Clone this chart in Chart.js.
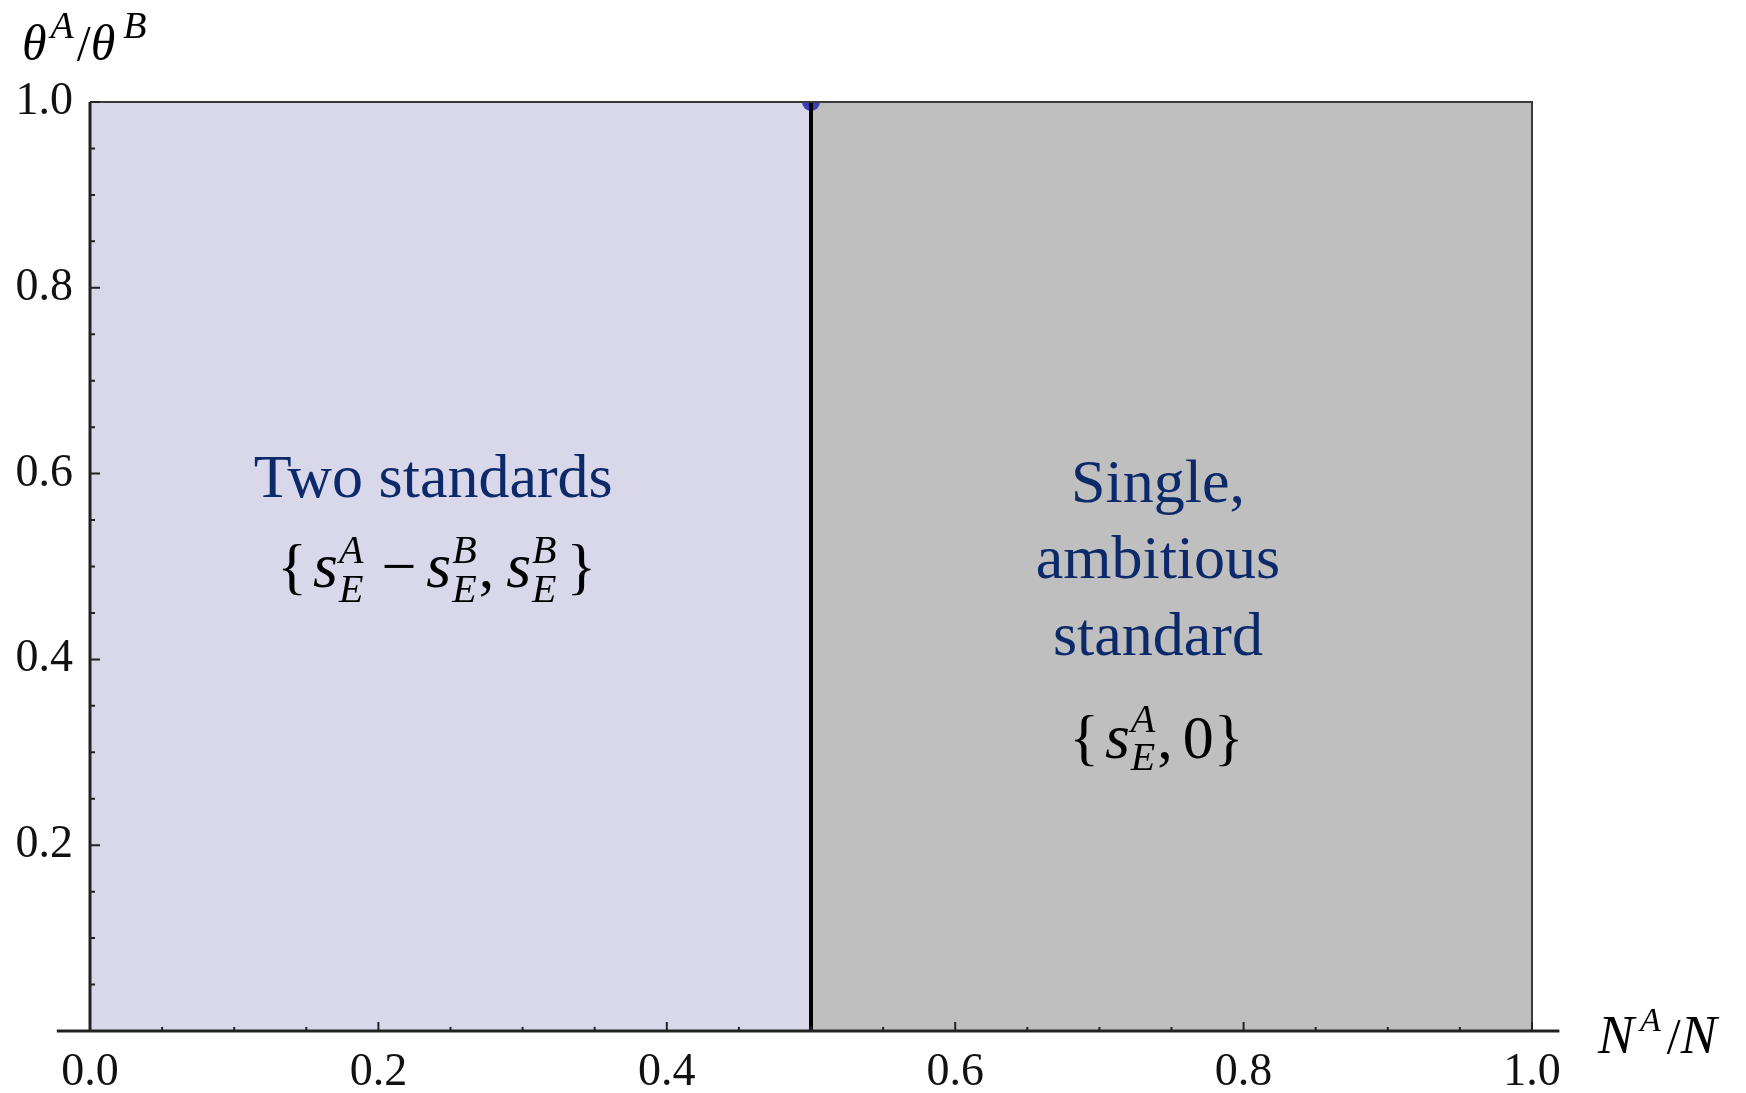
<!DOCTYPE html>
<html>
<head>
<meta charset="utf-8">
<script src="https://cdn.jsdelivr.net/npm/chart.js@4"></script>
<style>
html,body{margin:0;padding:0;background:#fff;}
#wrap{width:1746px;height:1093px;}
</style>
</head>
<body>
<div id="wrap"><canvas id="regionChart" width="1746" height="1093"></canvas></div>
<script>
// axis ticks
const xTicks = [0, 0.2, 0.4, 0.6, 0.8, 1.0];
const xTickLabels = ["0.0", "0.2", "0.4", "0.6", "0.8", "1.0"];
const yTicks = [0.2, 0.4, 0.6, 0.8, 1.0];
const yTickLabels = ["0.2", "0.4", "0.6", "0.8", "1.0"];
const minorTicks = [0.05, 0.1, 0.15, 0.25, 0.3, 0.35, 0.45, 0.5, 0.55, 0.65, 0.7, 0.75, 0.85, 0.9, 0.95];
const xAxisExtent = [-0.023, 1.019];

// regions (N^A/N on x, theta^A/theta^B on y)
const twoStdX = [0, 0.5];
const twoStdY = [1, 1];
const singleX = [0.5, 1];
const singleY = [1, 1];
const boundaryX = [0.5, 0.5];
const boundaryY = [0, 1];
const markerX = [0.5];
const markerY = [1];

const toPoints = (xs, ys) => xs.map((v, i) => ({x: v, y: ys[i]}));

const M = '62px "Liberation Serif"';
const I = 'italic 64px "Liberation Serif"';
const S = 'italic 40px "Liberation Serif"';
const LABEL = '62px "Liberation Serif"';
const BLUE = '#0c2a6a';

// draw a row of text pieces; align 'center' uses cx as middle, 'left' as start
function drawParts(ctx, parts, cx, base, align){
  let w = 0;
  parts.forEach(p => {
    ctx.font = p.font;
    if(p.sup !== undefined){
      p.w = Math.max(ctx.measureText(p.sup).width, ctx.measureText(p.sub || "").width);
    } else {
      p.w = ctx.measureText(p.t).width;
    }
    w += (p.gap || 0) + p.w;
  });
  let x = align === 'left' ? cx : cx - w / 2;
  ctx.textAlign = 'left';
  ctx.textBaseline = 'alphabetic';
  parts.forEach(p => {
    x += (p.gap || 0);
    ctx.font = p.font;
    if(p.sup !== undefined){
      ctx.fillText(p.sup, x, base - p.up);
      if(p.sub) ctx.fillText(p.sub, x, base + p.down);
    } else {
      ctx.fillText(p.t, x, base + (p.dy || 0));
    }
    x += p.w;
  });
}

const overlay = {
  id: 'overlay',
  afterDatasetsDraw(chart){
    const {ctx, scales: {x, y}} = chart;
    const x0 = x.getPixelForValue(0), x1 = x.getPixelForValue(1);
    const y0 = y.getPixelForValue(0), y1 = y.getPixelForValue(1);
    ctx.save();

    // frame top and right
    ctx.strokeStyle = '#3a3a3a';
    ctx.lineWidth = 2;
    ctx.beginPath();
    ctx.moveTo(x0, y1); ctx.lineTo(x1, y1); ctx.lineTo(x1, y0);
    ctx.stroke();

    // inside ticks
    ctx.strokeStyle = '#222';
    ctx.lineWidth = 2;
    ctx.beginPath();
    xTicks.forEach(v => { const px = x.getPixelForValue(v); ctx.moveTo(px, y0); ctx.lineTo(px, y0 - 9); });
    minorTicks.forEach(v => { const px = x.getPixelForValue(v); ctx.moveTo(px, y0); ctx.lineTo(px, y0 - 4); });
    yTicks.forEach(v => { const py = y.getPixelForValue(v); ctx.moveTo(x0, py); ctx.lineTo(x0 + 10, py); });
    minorTicks.forEach(v => { const py = y.getPixelForValue(v); ctx.moveTo(x0, py); ctx.lineTo(x0 + 5, py); });
    ctx.stroke();

    // axes
    ctx.lineWidth = 3;
    ctx.beginPath();
    ctx.moveTo(x.getPixelForValue(xAxisExtent[0]), y0);
    ctx.lineTo(x.getPixelForValue(xAxisExtent[1]), y0);
    ctx.moveTo(x0, y0); ctx.lineTo(x0, y1);
    ctx.stroke();

    // region labels
    ctx.fillStyle = BLUE;
    ctx.font = LABEL;
    ctx.textAlign = 'center';
    ctx.textBaseline = 'alphabetic';
    const lx = x.getPixelForValue(0.238);
    ctx.fillText('Two standards', lx, y.getPixelForValue(0.5748));
    const rx = x.getPixelForValue(0.7406);
    ctx.fillText('Single,', rx, y.getPixelForValue(0.5694));
    ctx.fillText('ambitious', rx, y.getPixelForValue(0.4876));
    ctx.fillText('standard', rx, y.getPixelForValue(0.4047));

    ctx.fillStyle = '#000';
    drawParts(ctx, [
      {t: '{', font: M},
      {t: 's', font: I, gap: 6},
      {sup: 'A', sub: 'E', font: S, up: 24, down: 15, gap: 1},
      {t: '\u2212', font: M, gap: 18},
      {t: 's', font: I, gap: 10},
      {sup: 'B', sub: 'E', font: S, up: 24, down: 15, gap: 1},
      {t: ',', font: M, gap: 2},
      {t: 's', font: I, gap: 12},
      {sup: 'B', sub: 'E', font: S, up: 24, down: 15, gap: 1},
      {t: '}', font: M, gap: 10}
    ], x.getPixelForValue(0.2405), y.getPixelForValue(0.478));

    drawParts(ctx, [
      {t: '{', font: M},
      {t: 's', font: I, gap: 6},
      {sup: 'A', sub: 'E', font: S, up: 26, down: 12, gap: 1},
      {t: ',', font: M, gap: 2},
      {t: '0', font: M, gap: 10},
      {t: '}', font: M}
    ], x.getPixelForValue(0.7395), y.getPixelForValue(0.2939));

    // axis titles
    const TH = 'italic 50px "Liberation Serif"';
    const SP = 'italic 38px "Liberation Serif"';
    drawParts(ctx, [
      {t: '\u03B8', font: TH},
      {sup: 'A', font: SP, up: 22, gap: 4},
      {t: '/', font: '50px "Liberation Serif"', gap: 3},
      {t: '\u03B8', font: TH},
      {sup: 'B', font: SP, up: 22, gap: 8}
    ], 22, 60, 'left');

    drawParts(ctx, [
      {t: 'N', font: 'italic 54px "Liberation Serif"'},
      {sup: 'A', font: 'italic 34px "Liberation Serif"', up: 22, gap: 6},
      {t: '/', font: '50px "Liberation Serif"', gap: 6},
      {t: 'N', font: 'italic 54px "Liberation Serif"'}
    ], 1598, 1053, 'left');

    ctx.restore();
  }
};

const tickFont = {family: 'Liberation Serif', size: 46};

new Chart(document.getElementById('regionChart'), {
  type: 'line',
  data: {
    datasets: [
      {label: 'boundary', data: toPoints(boundaryX, boundaryY), borderColor: '#000', borderWidth: 4,
       pointRadius: 0, fill: false, order: 0, clip: 0},
      {label: 'marker', data: toPoints(markerX, markerY), showLine: false, pointRadius: 9,
       pointBackgroundColor: '#3f3fb5', pointBorderWidth: 0, order: 1, clip: 0},
      {label: 'Single, ambitious standard', data: toPoints(singleX, singleY), borderWidth: 0,
       backgroundColor: '#bfbfbf', fill: 'origin', pointRadius: 0, order: 2},
      {label: 'Two standards', data: toPoints(twoStdX, twoStdY), borderWidth: 0,
       backgroundColor: '#d9d8ea', fill: 'origin', pointRadius: 0, order: 2}
    ]
  },
  options: {
    responsive: false,
    animation: false,
    events: [],
    layout: {padding: {left: 0, right: 214, top: 102, bottom: 0}},
    plugins: {legend: {display: false}, tooltip: {enabled: false}},
    scales: {
      x: {
        type: 'linear', min: 0, max: 1,
        grid: {display: false, drawTicks: false},
        border: {display: false},
        afterBuildTicks: s => { s.ticks = xTicks.map(v => ({value: v})); },
        afterFit: s => { s.height = 62; },
        ticks: {callback: (v, i) => xTickLabels[i], font: tickFont, color: '#111',
                padding: 14, maxRotation: 0, autoSkip: false}
      },
      y: {
        type: 'linear', min: 0, max: 1,
        grid: {display: false, drawTicks: false},
        border: {display: false},
        afterBuildTicks: s => { s.ticks = yTicks.map(v => ({value: v})); },
        afterFit: s => { s.width = 90; },
        ticks: {callback: (v, i) => yTickLabels[i], font: tickFont, color: '#111',
                padding: 17, autoSkip: false}
      }
    }
  },
  plugins: [overlay]
});
</script>
</body>
</html>
